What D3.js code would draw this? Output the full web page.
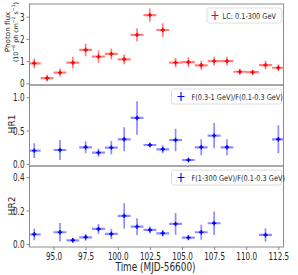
<!DOCTYPE html>
<html><head><meta charset="utf-8">
<script src="https://cdn.jsdelivr.net/npm/d3@7"></script>
<style>html,body{margin:0;padding:0;background:#fff;}svg{display:block;font-family:"DejaVu Sans",sans-serif;}</style>
</head><body>
<script>
// ---- data ----
const lcX = [93.5,94.5,95.5,96.5,97.5,98.5,99.5,100.5,101.5,102.5,103.5,104.5,105.5,106.5,107.5,108.5,109.5,110.5,111.5,112.5];
const lcY = [0.90,0.23,0.48,0.93,1.50,1.20,1.32,1.08,2.18,3.07,2.40,0.93,0.95,0.81,1.00,1.00,0.52,0.50,0.82,0.70];
const lcErr = [0.22,0.15,0.17,0.26,0.28,0.28,0.25,0.22,0.30,0.30,0.30,0.21,0.22,0.20,0.20,0.20,0.13,0.11,0.19,0.15];

const hr1X = [93.5,95.5,97.5,98.5,99.5,100.5,101.5,102.5,103.5,104.5,105.5,106.5,107.5,108.5,112.5];
const hr1Y = [0.20,0.21,0.25,0.17,0.245,0.37,0.69,0.285,0.22,0.36,0.06,0.25,0.425,0.25,0.37];
const hr1Err = [0.11,0.15,0.09,0.06,0.10,0.18,0.25,0.03,0.06,0.17,0.02,0.12,0.19,0.12,0.21];

const hr2X = [93.5,95.5,96.5,97.5,98.5,99.5,100.5,101.5,102.5,103.5,104.5,105.5,106.5,107.5,111.5];
const hr2Y = [0.058,0.07,0.022,0.04,0.09,0.06,0.168,0.104,0.084,0.064,0.12,0.038,0.07,0.124,0.054];
const hr2Err = [0.035,0.055,0.015,0.02,0.03,0.03,0.075,0.05,0.02,0.02,0.065,0.015,0.045,0.07,0.04];

const binHalf = 0.5;
const xTicks = [95.0,97.5,100.0,102.5,105.0,107.5,110.0,112.5];
const lcTicks = [0,1,2,3];
const hr1Ticks = [0.0,0.5,1.0];
const hr2Ticks = [0.0,0.2,0.4];
const legendLabels = ["LC: 0.1-300 GeV","F(0.3-1 GeV)/F(0.1-0.3 GeV)","F(1-300 GeV)/F(0.1-0.3 GeV)"];

// ---- layout ----
const W = 298, H = 275;
const L = 29.5, R = 283.5;
const panels = [
  {top:4, bot:85, dom:[-0.077,3.57], ticks:lcTicks, fmt:d3.format("d"), xs:lcX, ys:lcY, es:lcErr, col:"#ff0000", ecol:"rgba(255,0,0,0.5)", label:legendLabels[0]},
  {top:85, bot:166, dom:[-0.03,1.184], ticks:hr1Ticks, fmt:d3.format(".1f"), xs:hr1X, ys:hr1Y, es:hr1Err, col:"#0000ff", ecol:"rgba(0,0,255,0.45)", label:legendLabels[1]},
  {top:166, bot:247, dom:[-0.018,0.466], ticks:hr2Ticks, fmt:d3.format(".1f"), xs:hr2X, ys:hr2Y, es:hr2Err, col:"#0000ff", ecol:"rgba(0,0,255,0.45)", label:legendLabels[2]}
];
const x = d3.scaleLinear().domain([93.13,112.9]).range([L,R]);
const axisCol = "#8c8c8c", textCol = "#262626";
const tickSx = 0.66, tickSize = 11;

const svg = d3.select("body").append("svg").attr("width",W).attr("height",H);

function txt(sel, px, py, str, o){
  const t = sel.append("text")
    .attr("transform", `translate(${px},${py}) scale(${o.sx||1},1) rotate(${o.rot||0})`)
    .attr("text-anchor", o.anchor||"start")
    .attr("font-size", o.size)
    .attr("fill", o.fill||textCol);
  if (str !== null) t.text(str);
  return t;
}

panels.forEach((p,i)=>{
  const y = d3.scaleLinear().domain(p.dom).range([p.bot,p.top]);
  const g = svg.append("g");
  const clipId = "clip"+i;
  svg.append("clipPath").attr("id",clipId).append("rect")
    .attr("x",L).attr("y",p.top).attr("width",R-L).attr("height",p.bot-p.top);

  // y axis
  const ya = g.append("g").attr("transform",`translate(${L},0)`)
    .call(d3.axisLeft(y).tickValues(p.ticks).tickFormat(p.fmt).tickSize(3).tickPadding(2));
  ya.select(".domain").remove();
  ya.selectAll("line").attr("stroke",axisCol);
  ya.selectAll("text").attr("font-size",tickSize).attr("fill",textCol)
    .attr("font-family","DejaVu Sans")
    .attr("transform",`scale(${tickSx},1)`).attr("x",-5/tickSx);

  // x axis ticks
  const xa = g.append("g").attr("transform",`translate(0,${p.bot})`)
    .call(d3.axisBottom(x).tickValues(xTicks).tickFormat(i===2?d3.format(".1f"):"").tickSize(i===2?3:0).tickPadding(2));
  xa.select(".domain").remove();
  xa.selectAll("line").attr("stroke",axisCol);
  xa.selectAll("text").attr("font-size",tickSize).attr("fill",textCol)
    .attr("font-family","DejaVu Sans")
    .attr("transform",`scale(${tickSx},1)`);

  // data
  const dg = g.append("g").attr("clip-path",`url(#${clipId})`);
  const pts = p.xs.map((v,k)=>({x:v,y:p.ys[k],e:p.es[k]}));
  dg.selectAll(".h").data(pts).join("line")
    .attr("x1",d=>x(d.x-binHalf)).attr("x2",d=>x(d.x+binHalf))
    .attr("y1",d=>y(d.y)).attr("y2",d=>y(d.y))
    .attr("stroke",p.ecol).attr("stroke-width",2.2);
  dg.selectAll(".v").data(pts).join("line")
    .attr("x1",d=>x(d.x)).attr("x2",d=>x(d.x))
    .attr("y1",d=>y(d.y-d.e)).attr("y2",d=>y(d.y+d.e))
    .attr("stroke",p.ecol).attr("stroke-width",1.7);
  dg.selectAll(".m").data(pts).join("path")
    .attr("d",d=>`M${x(d.x)-2.2},${y(d.y)}h4.4M${x(d.x)},${y(d.y)-2.2}v4.4`)
    .attr("stroke",p.col).attr("stroke-width",1.4);

  // frame
  g.append("rect").attr("x",L).attr("y",p.top).attr("width",R-L).attr("height",p.bot-p.top)
    .attr("fill","none").attr("stroke",axisCol).attr("stroke-width",1);

  // legend
  const lw = i===0 ? 74.5 : 110;
  const lx = 281.5 - lw, ly = p.top + 4;
  const lg = g.append("g");
  lg.append("rect").attr("x",lx).attr("y",ly).attr("width",lw).attr("height",15).attr("rx",2)
    .attr("fill","#fff").attr("fill-opacity",0.85).attr("stroke","#d6d6d6").attr("stroke-width",0.8);
  const mx = lx + (i===0?8:9.5), my = ly + 7.5;
  lg.append("path").attr("d",`M${mx-3.5},${my}h7M${mx},${my-4.5}v9`).attr("stroke",p.col).attr("stroke-width",1.1);
  txt(lg, lx + (i===0?15.5:20), ly+10.8, p.label, {size:8, sx:0.82});
});

// y labels
const yl = txt(svg, 10, 32, null, {size:7.2, rot:-90, anchor:"middle"});
yl.text("Photon flux");
const yl2 = txt(svg, 17.6, 32, null, {size:6.3, rot:-90, anchor:"middle"});
yl2.append("tspan").text("(10");
yl2.append("tspan").attr("font-size",4.6).attr("dy",-2.6).text("\u22126");
yl2.append("tspan").attr("dy",2.6).text(" ph cm");
yl2.append("tspan").attr("font-size",4.6).attr("dy",-2.6).text("\u22122");
yl2.append("tspan").attr("dy",2.6).text(" s");
yl2.append("tspan").attr("font-size",4.6).attr("dy",-2.6).text("\u22121");
yl2.append("tspan").attr("dy",2.6).text(")");
txt(svg, 15.2, 124, "HR1", {size:9, rot:-90, anchor:"middle"});
txt(svg, 15.2, 206, "HR2", {size:9, rot:-90, anchor:"middle"});

// x label
txt(svg, 155.5, 271, "Time (MJD-56600)", {size:12, sx:0.74, anchor:"middle"});
</script>
</body></html>
